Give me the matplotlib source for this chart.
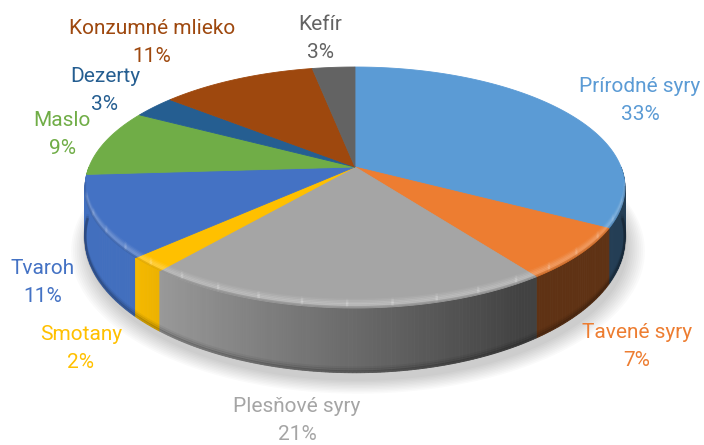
import numpy as np
import matplotlib
matplotlib.use('Agg')
import matplotlib.pyplot as plt
from matplotlib.patches import Polygon
from matplotlib import font_manager
from matplotlib.colors import to_rgb

# data
labels = ['Prírodné syry', 'Tavené syry', 'Plesňové syry', 'Smotany', 'Tvaroh',
          'Maslo', 'Dezerty', 'Konzumné mlieko', 'Kefír']
values = [33, 7, 21, 2, 11, 9, 3, 11, 3]
colors = ['#5B9BD5', '#ED7D31', '#A5A5A5', '#FFC000', '#4472C4',
          '#70AD47', '#255E91', '#9E480E', '#636363']

# label placement (pixel coords of text centre)
label_pos = [(640, 101), (637, 346), (297, 421), (81, 349), (43, 282),
             (62, 134), (105, 91), (152, 42), (320, 39)]

# pie geometry in pixels
cx, cy = 355, 167      # apex
a, b = 266, 117        # half-axes before perspective
k = 0.17               # perspective factor
h0 = 49                # side depth

avail = {f.name for f in font_manager.fontManager.ttflist}
fam = ['Liberation Sans Narrow', 'DejaVu Sans'] if 'Liberation Sans Narrow' in avail else ['Roboto', 'DejaVu Sans']


def rim(phi, drop=False):
    # phi in degrees clockwise from 12 o'clock
    p = np.radians(phi)
    X = np.sin(p)
    Y = -np.cos(p)
    w = 1 - k * Y
    x = cx + a * X / w
    y = cy + b * Y / w
    if drop:
        y = y + h0 / w ** 1.5
    return x, y


fig = plt.figure(figsize=(7.04, 4.45), dpi=100)
ax = fig.add_axes([0, 0, 1, 1])
ax.set_xlim(0, 704)
ax.set_ylim(445, 0)
ax.axis('off')

total = float(sum(values))
bounds = np.concatenate([[0], np.cumsum(values) / total * 360])

# soft shadow under the pie
phis = np.linspace(0, 360, 200)
sx, sy = rim(phis, drop=True)
for i in range(10):
    g = 1 + 0.007 * i
    px = cx + (sx - cx) * g + 3
    py = cy + 8 + (sy - cy) * g
    ax.add_patch(Polygon(np.column_stack([px, py]), closed=True,
                         facecolor='#000000', alpha=0.02, lw=0, zorder=1))

# side wall: small quads on the front half, back to front
quads = []
for i in range(len(values)):
    lo, hi = bounds[i], bounds[i + 1]
    lo2, hi2 = max(lo, 90), min(hi, 270)
    if hi2 <= lo2:
        continue
    n = max(2, int((hi2 - lo2) / 0.7))
    edges = np.linspace(lo2, hi2, n + 1)
    for p0, p1 in zip(edges[:-1], edges[1:]):
        pm = 0.5 * (p0 + p1)
        quads.append((-np.cos(np.radians(pm)), i, p0, p1, np.sin(np.radians(pm))))
quads.sort(key=lambda q: q[0])
for Y, i, p0, p1, X in quads:
    x0, y0 = rim(p0)
    x1, y1 = rim(p1)
    x0b, y0b = rim(p0, True)
    x1b, y1b = rim(p1, True)
    shade = np.clip(0.64 - 0.45 * X, 0.4, 0.97)
    c = np.array(to_rgb(colors[i])) * shade
    ax.add_patch(Polygon([(x0, y0), (x1, y1), (x1b, y1b), (x0b, y0b)], closed=True,
                         facecolor=c, edgecolor=c, lw=0.6, zorder=2))

# darker lower edge of the side
ph = np.linspace(92, 268, 200)
bx, by = rim(ph, True)
for off, al in [(1, 0.18), (3, 0.10), (5, 0.05)]:
    ax.plot(bx, by - off, color='black', alpha=al, lw=2, zorder=2.5)

# top faces
for i in range(len(values)):
    ph = np.linspace(bounds[i], bounds[i + 1], max(3, int(values[i] * 6)))
    rx, ry = rim(ph)
    pts = np.vstack([[cx, cy], np.column_stack([rx, ry])])
    ax.add_patch(Polygon(pts, closed=True, facecolor=colors[i],
                         edgecolor=colors[i], lw=0.6, zorder=3))

# soft bevel highlight along the front rim
ph = np.linspace(100, 262, 200)
rx, ry = rim(ph)
fade = np.sin(np.radians((ph - 100) / 162 * 180)) ** 0.5
for off, al in [(2, 0.10), (3.5, 0.16), (5, 0.14), (6.5, 0.09), (8, 0.05)]:
    for j in range(0, len(ph) - 10, 10):
        ax.plot(rx[j:j + 11], ry[j:j + 11] - off, color='white',
                alpha=al * fade[j + 5], lw=1.8, zorder=4)
ax.plot(rx, ry - 0.8, color='black', alpha=0.10, lw=1.5, zorder=4)

# labels
for i, (lx, ly) in enumerate(label_pos):
    txt = '%s\n%d%%' % (labels[i], round(values[i] / total * 100))
    ax.text(lx, ly, txt, ha='center', va='center', color=colors[i],
            fontsize=15, family=fam, linespacing=1.6, zorder=5)

fig.savefig('out.png', dpi=100)
